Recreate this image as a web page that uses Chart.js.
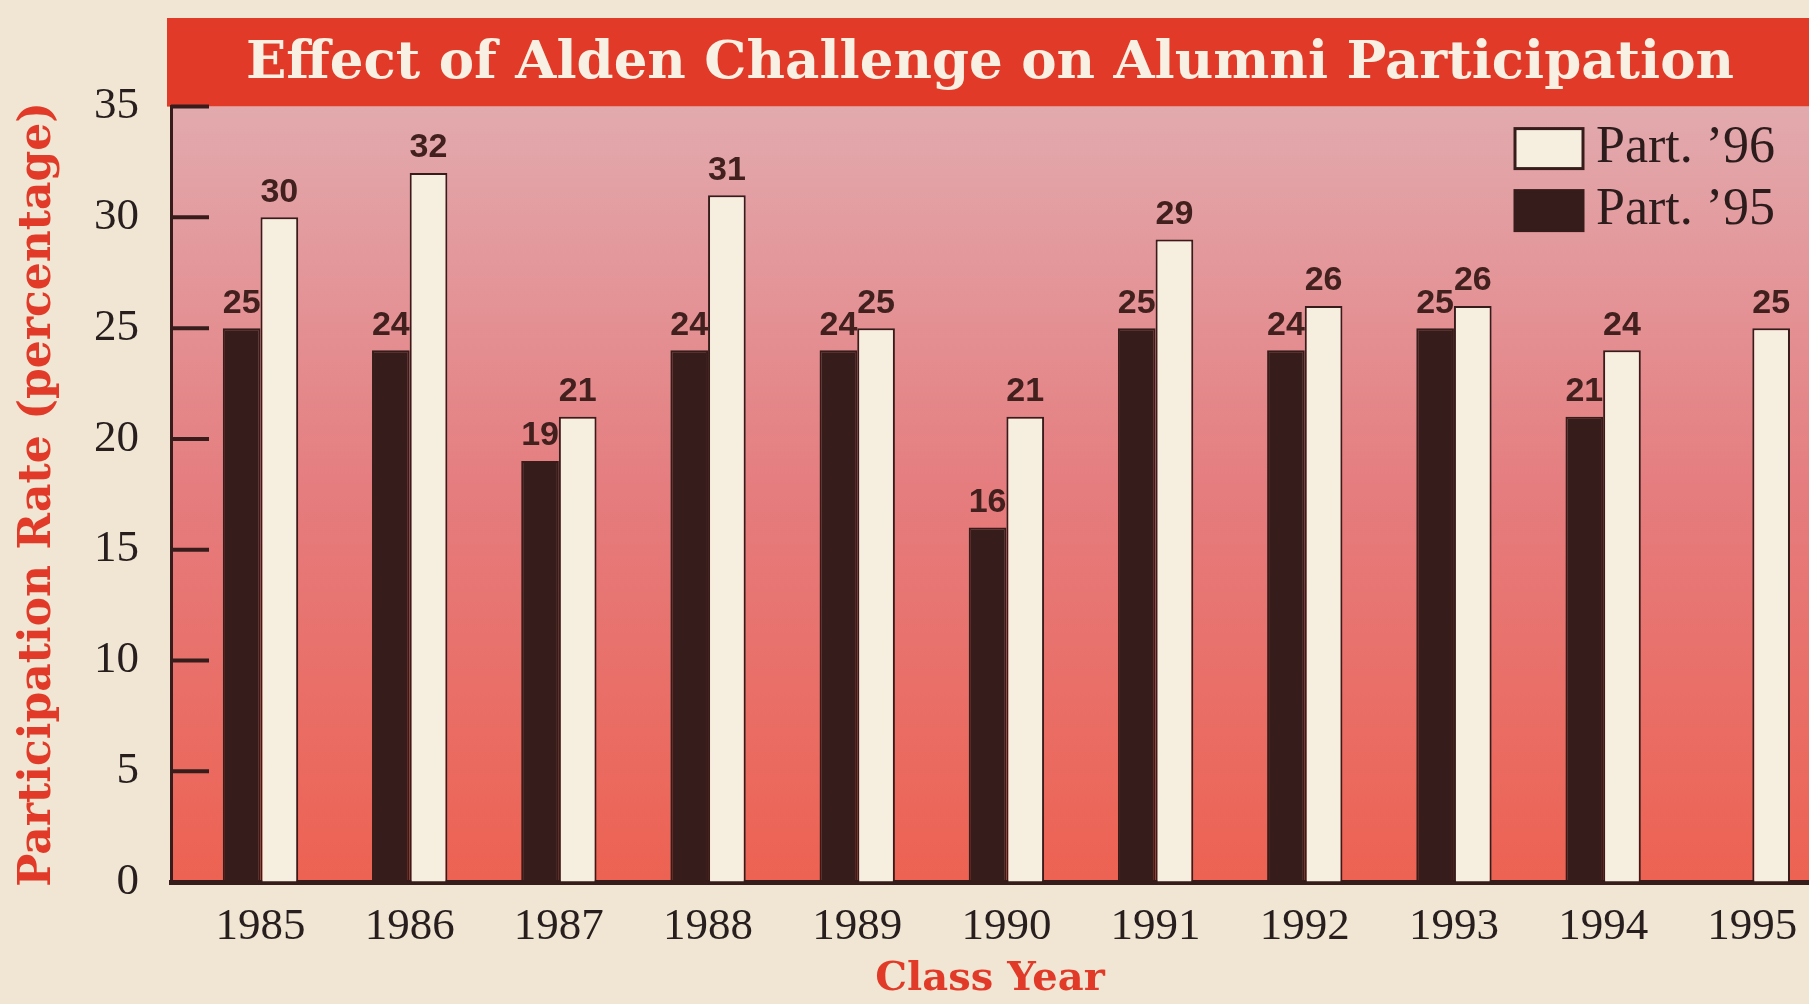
<!DOCTYPE html>
<html>
<head>
<meta charset="utf-8">
<title>Effect of Alden Challenge on Alumni Participation</title>
<script src="https://cdn.jsdelivr.net/npm/chart.js@4.4.1/dist/chart.umd.min.js"></script>
<style>
  html, body { margin: 0; padding: 0; background: rgb(240, 230, 211); }
  #wrap { width: 1809px; height: 1004px; }
</style>
</head>
<body>
<div id="wrap"><canvas id="chart" width="1809" height="1004"></canvas></div>
<script>
// data
const years = [1985, 1986, 1987, 1988, 1989, 1990, 1991, 1992, 1993, 1994, 1995];
const part95 = [25, 24, 19, 24, 24, 16, 25, 24, 25, 21, null];
const part96 = [30, 32, 21, 31, 25, 21, 29, 26, 26, 24, 25];
const yTicks = [0, 5, 10, 15, 20, 25, 30, 35];

const DARK = 'rgb(54, 28, 26)';
const CREAM = 'rgb(246, 239, 224)';
const RED = 'rgb(225, 58, 40)';
const PAGE = 'rgb(240, 230, 211)';
const SERIF = '"Liberation Serif", "Times New Roman", serif';
const WIDE_SERIF = '"DejaVu Serif", "Liberation Serif", serif';

const backdrop = {
  id: 'backdrop',
  beforeDraw(chart) {
    const { ctx, chartArea: a, width } = chart;
    ctx.save();
    ctx.fillStyle = PAGE;
    ctx.fillRect(0, 0, width, chart.height);
    // red banner behind the title
    ctx.fillStyle = RED;
    ctx.fillRect(a.left - 4, 18, width - a.left + 4, a.top - 18);
    // pink -> salmon plot background
    const g = ctx.createLinearGradient(0, a.top, 0, a.bottom);
    g.addColorStop(0, 'rgb(226, 170, 174)');
    g.addColorStop(0.5, 'rgb(229, 124, 126)');
    g.addColorStop(1, 'rgb(237, 98, 82)');
    ctx.fillStyle = g;
    ctx.fillRect(a.left, a.top, width - a.left, a.bottom - a.top);
    ctx.restore();
  }
};

const marks = {
  id: 'marks',
  afterDatasetsDraw(chart) {
    const { ctx, chartArea: a } = chart;
    const y = chart.scales.y;
    ctx.save();
    // tick marks point into the plot
    ctx.strokeStyle = DARK;
    ctx.lineWidth = 4;
    yTicks.forEach(v => {
      if (v === 0) return;
      const py = y.getPixelForValue(v);
      ctx.beginPath();
      ctx.moveTo(a.left, py);
      ctx.lineTo(a.left + 38, py);
      ctx.stroke();
    });
    // value labels above bars
    ctx.fillStyle = 'rgb(66, 32, 30)';
    ctx.font = 'bold 34px "Liberation Sans", Arial, sans-serif';
    ctx.textAlign = 'center';
    ctx.textBaseline = 'bottom';
    chart.data.datasets.forEach((ds, di) => {
      chart.getDatasetMeta(di).data.forEach((bar, i) => {
        const v = ds.data[i].y;
        if (v == null) return;
        ctx.fillText(v, bar.x, bar.y - 8);
      });
    });
    ctx.restore();
  }
};

const keyBox = {
  id: 'keyBox',
  afterDraw(chart) {
    const { ctx, chartArea: a } = chart;
    const items = chart.data.datasets.slice().reverse();
    ctx.save();
    ctx.font = '52px ' + SERIF;
    ctx.textBaseline = 'middle';
    items.forEach((ds, i) => {
      const top = a.top + 22 + i * 62;
      ctx.fillStyle = ds.backgroundColor;
      ctx.fillRect(1515, top, 68, 40);
      ctx.strokeStyle = DARK;
      ctx.lineWidth = 3;
      ctx.strokeRect(1515, top, 68, 40);
      ctx.fillStyle = 'rgb(45, 28, 28)';
      ctx.fillText(ds.label, 1596, top + 20);
    });
    ctx.restore();
  }
};

const ctx = document.getElementById('chart').getContext('2d');

new Chart(ctx, {
  type: 'bar',
  data: {
    datasets: [
      {
        label: 'Part. \u201995',
        data: years.map((yr, i) => ({ x: yr, y: part95[i] })),
        backgroundColor: DARK,
        borderColor: DARK,
        borderWidth: 2,
        categoryPercentage: 0.505,
        barPercentage: 1
      },
      {
        label: 'Part. \u201996',
        data: years.map((yr, i) => ({ x: yr, y: part96[i] })),
        backgroundColor: CREAM,
        borderColor: DARK,
        borderWidth: 2,
        categoryPercentage: 0.505,
        barPercentage: 1
      }
    ]
  },
  options: {
    responsive: false,
    animation: false,
    layout: { padding: { left: 0, right: 0, top: 0, bottom: 0 } },
    plugins: {
      legend: { display: false },
      tooltip: { enabled: false },
      title: {
        display: true,
        text: 'Effect of Alden Challenge on Alumni Participation',
        color: 'rgb(248, 240, 226)',
        fullSize: false,
        font: { family: WIDE_SERIF, size: 53, weight: 'bold', lineHeight: 1.2 },
        padding: { top: 32, bottom: 11 }
      }
    },
    scales: {
      x: {
        type: 'linear',
        offset: false,
        min: 1984.4,
        max: 1995.38,
        afterBuildTicks(scale) {
          scale.ticks = years.map(v => ({ value: v }));
        },
        afterFit(scale) {
          scale.height = 122;
          scale.paddingLeft = 0;
          scale.paddingRight = 0;
        },
        ticks: {
          color: 'rgb(40, 30, 30)',
          font: { family: SERIF, size: 45 },
          padding: 18,
          callback: v => String(v)
        },
        grid: { display: false, drawTicks: false },
        border: { color: DARK, width: 5 },
        title: {
          display: true,
          text: 'Class Year',
          color: RED,
          font: { family: WIDE_SERIF, size: 40, weight: 'bold' },
          padding: { top: 0, bottom: 0 }
        }
      },
      y: {
        min: 0,
        max: 35,
        afterBuildTicks(scale) {
          scale.ticks = yTicks.map(v => ({ value: v }));
        },
        afterFit(scale) { scale.width = 171; },
        ticks: {
          color: 'rgb(40, 30, 30)',
          font: { family: SERIF, size: 45 },
          padding: 32
        },
        grid: { drawOnChartArea: false, drawTicks: false },
        border: { color: DARK, width: 3 },
        title: {
          display: true,
          text: 'Participation Rate (percentage)',
          color: RED,
          font: { family: WIDE_SERIF, size: 44, weight: 'bold' },
          padding: { top: 12, bottom: 0 }
        }
      }
    }
  },
  plugins: [backdrop, marks, keyBox]
});
</script>
</body>
</html>
